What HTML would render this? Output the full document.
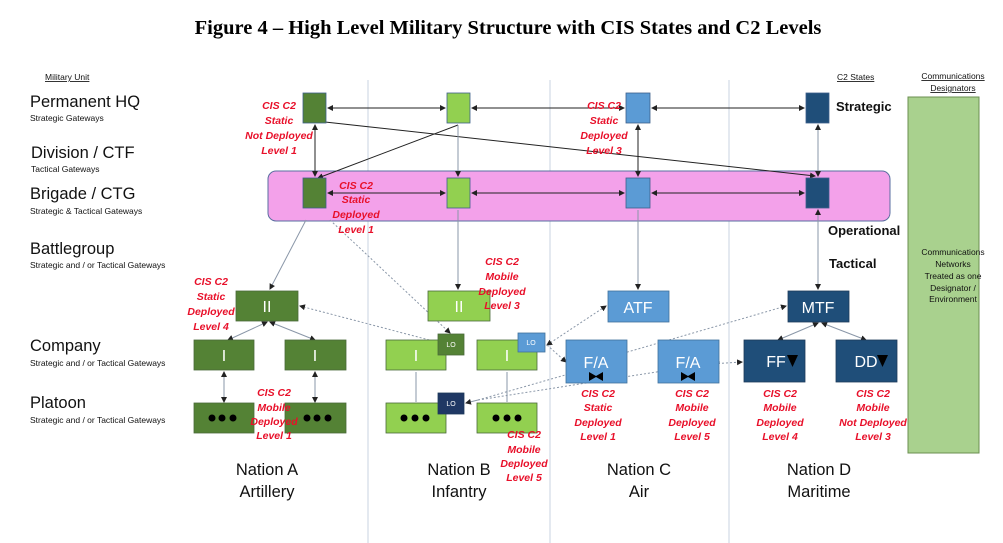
<!DOCTYPE html>
<html><head><meta charset="utf-8"><style>
body{margin:0;background:#fff;width:1003px;height:543px;overflow:hidden}
svg{display:block}
.r{font-family:"Liberation Sans",sans-serif;font-style:italic;font-weight:bold;font-size:10.5px;fill:#e8102a;text-anchor:middle}
.lab{font-family:"Liberation Sans",sans-serif;fill:#111}
.w{font-family:"Liberation Sans",sans-serif;fill:#fff;text-anchor:middle}
.n{font-family:"Liberation Sans",sans-serif;font-size:16.5px;fill:#111;text-anchor:middle}
</style></head><body>
<svg width="1003" height="543" viewBox="0 0 1003 543" xmlns="http://www.w3.org/2000/svg">
<defs>
<marker id="a" markerWidth="6" markerHeight="6" refX="5" refY="3" orient="auto"><path d="M0,0 L6,3 L0,6z" fill="#222"/></marker>
<marker id="b" markerWidth="6" markerHeight="6" refX="1" refY="3" orient="auto"><path d="M6,0 L0,3 L6,6z" fill="#222"/></marker>
</defs>
<text x="508" y="34" text-anchor="middle" font-family="Liberation Serif,serif" font-weight="bold" font-size="20.5">Figure 4 – High Level Military Structure with CIS States and C2 Levels</text>
<g stroke="#c9d3e0" stroke-width="1">
<line x1="368" y1="80" x2="368" y2="543"/><line x1="550" y1="80" x2="550" y2="543"/><line x1="729" y1="80" x2="729" y2="543"/>
</g>
<text x="45" y="80" class="lab" font-size="8.5" text-decoration="underline">Military Unit</text>
<text x="837" y="80" class="lab" font-size="8.5" text-decoration="underline">C2 States</text>
<text x="953" y="79" class="lab" font-size="8.5" text-anchor="middle" text-decoration="underline">Communications</text>
<text x="953" y="91" class="lab" font-size="8.5" text-anchor="middle" text-decoration="underline">Designators</text>
<g class="lab">
<text x="30" y="107" font-size="16.5">Permanent HQ</text><text x="30" y="121" font-size="8.5">Strategic Gateways</text>
<text x="31" y="158" font-size="16.5">Division / CTF</text><text x="31" y="172" font-size="8.5">Tactical Gateways</text>
<text x="30" y="199" font-size="16.5">Brigade / CTG</text><text x="30" y="214" font-size="8.5">Strategic &amp; Tactical Gateways</text>
<text x="30" y="254" font-size="16.5">Battlegroup</text><text x="30" y="268" font-size="8.5">Strategic and / or Tactical Gateways</text>
<text x="30" y="351" font-size="16.5">Company</text><text x="30" y="366" font-size="8.5">Strategic and / or Tactical Gateways</text>
<text x="30" y="408" font-size="16.5">Platoon</text><text x="30" y="423" font-size="8.5">Strategic and / or Tactical Gateways</text>
</g>
<rect x="908" y="97" width="71" height="356" fill="#a9d18e" stroke="#6b8f50"/>
<g class="lab" font-size="8.5" text-anchor="middle" fill="#333">
<text x="953" y="255">Communications</text><text x="953" y="267">Networks</text><text x="953" y="279">Treated as one</text><text x="953" y="291">Designator /</text><text x="953" y="302">Environment</text>
</g>
<text x="836" y="111" class="lab" font-size="13" font-weight="bold">Strategic</text>
<text x="828" y="235" class="lab" font-size="13" font-weight="bold">Operational</text>
<text x="829" y="268" class="lab" font-size="13" font-weight="bold">Tactical</text>
<rect x="268" y="171" width="622" height="50" rx="8" fill="#f3a1ea" stroke="#5a6fa0"/>
<g stroke="#222" stroke-width="1" fill="none">
<line x1="328" y1="108" x2="445" y2="108" marker-start="url(#b)" marker-end="url(#a)"/>
<line x1="472" y1="108" x2="624" y2="108" marker-start="url(#b)" marker-end="url(#a)"/>
<line x1="652" y1="108" x2="804" y2="108" marker-start="url(#b)" marker-end="url(#a)"/>
<line x1="328" y1="193" x2="445" y2="193" marker-start="url(#b)" marker-end="url(#a)"/>
<line x1="472" y1="193" x2="624" y2="193" marker-start="url(#b)" marker-end="url(#a)"/>
<line x1="652" y1="193" x2="804" y2="193" marker-start="url(#b)" marker-end="url(#a)"/>
<line x1="315" y1="125" x2="315" y2="176" marker-start="url(#b)" marker-end="url(#a)"/>
<line x1="638" y1="125" x2="638" y2="176" marker-start="url(#b)" marker-end="url(#a)"/>
<line x1="325" y1="122" x2="815" y2="176" marker-end="url(#a)"/>
<line x1="458" y1="125" x2="318" y2="178" marker-end="url(#a)"/>
</g>
<g stroke="#8a97a8" stroke-width="1" fill="none">
<line x1="458" y1="125" x2="458" y2="176" marker-end="url(#a)"/>
<line x1="818" y1="125" x2="818" y2="176" marker-start="url(#b)" marker-end="url(#a)"/>
<line x1="818" y1="210" x2="818" y2="289" marker-start="url(#b)" marker-end="url(#a)"/>
<line x1="638" y1="210" x2="638" y2="289" marker-end="url(#a)"/>
<line x1="458" y1="210" x2="458" y2="289" marker-end="url(#a)"/>
<line x1="306" y1="220" x2="270" y2="289" marker-end="url(#a)"/>
<line x1="330" y1="220" x2="450" y2="333" stroke-dasharray="2,2" marker-end="url(#a)"/>
<line x1="437" y1="342" x2="300" y2="306" stroke-dasharray="2,2" marker-end="url(#a)"/>
<line x1="267" y1="322" x2="228" y2="340" marker-start="url(#b)" marker-end="url(#a)"/>
<line x1="270" y1="322" x2="315" y2="340" marker-start="url(#b)" marker-end="url(#a)"/>
<line x1="224" y1="372" x2="224" y2="402" marker-start="url(#b)" marker-end="url(#a)"/>
<line x1="315" y1="372" x2="315" y2="402" marker-start="url(#b)" marker-end="url(#a)"/>
<line x1="416" y1="372" x2="416" y2="402"/>
<line x1="507" y1="372" x2="507" y2="402"/>
<line x1="547" y1="345" x2="606" y2="306" stroke-dasharray="2,2" marker-start="url(#b)" marker-end="url(#a)"/>
<line x1="547" y1="345" x2="566" y2="362" stroke-dasharray="2,2" marker-end="url(#a)"/>
<line x1="600" y1="360" x2="786" y2="306" stroke-dasharray="2,2" marker-end="url(#a)"/>
<line x1="710" y1="364" x2="742" y2="362" stroke-dasharray="2,2" marker-end="url(#a)"/>
<line x1="818" y1="323" x2="778" y2="340" marker-start="url(#b)" marker-end="url(#a)"/>
<line x1="822" y1="323" x2="866" y2="340" marker-start="url(#b)" marker-end="url(#a)"/>
<line x1="478" y1="400" x2="720" y2="362" stroke-dasharray="2,2"/>
<line x1="478" y1="400" x2="466" y2="403" marker-end="url(#a)"/>
<line x1="478" y1="400" x2="600" y2="365" stroke-dasharray="2,2"/>
</g>
<g stroke="#3d5f8a" stroke-width="0.8">
<rect x="303" y="93" width="23" height="30" fill="#548235"/>
<rect x="447" y="93" width="23" height="30" fill="#92d050"/>
<rect x="626" y="93" width="24" height="30" fill="#5b9bd5"/>
<rect x="806" y="93" width="23" height="30" fill="#1f4e79"/>
<rect x="303" y="178" width="23" height="30" fill="#548235"/>
<rect x="447" y="178" width="23" height="30" fill="#92d050"/>
<rect x="626" y="178" width="24" height="30" fill="#5b9bd5"/>
<rect x="806" y="178" width="23" height="30" fill="#1f4e79"/>
</g>
<g stroke="#4a6a3a" stroke-width="0.8">
<rect x="236" y="291" width="62" height="30" fill="#548235"/>
<rect x="428" y="291" width="62" height="30" fill="#92d050"/>
<rect x="608" y="291" width="61" height="31" fill="#5b9bd5" stroke="#41719c"/>
<rect x="788" y="291" width="61" height="31" fill="#1f4e79" stroke="#1f3a5a"/>
<rect x="194" y="340" width="60" height="30" fill="#548235"/>
<rect x="285" y="340" width="61" height="30" fill="#548235"/>
<rect x="386" y="340" width="60" height="30" fill="#92d050"/>
<rect x="477" y="340" width="60" height="30" fill="#92d050"/>
<rect x="566" y="340" width="61" height="43" fill="#5b9bd5" stroke="#41719c"/>
<rect x="658" y="340" width="61" height="43" fill="#5b9bd5" stroke="#41719c"/>
<rect x="744" y="340" width="61" height="42" fill="#1f4e79" stroke="#1f3a5a"/>
<rect x="836" y="340" width="61" height="42" fill="#1f4e79" stroke="#1f3a5a"/>
<rect x="194" y="403" width="60" height="30" fill="#548235"/>
<rect x="285" y="403" width="61" height="30" fill="#548235"/>
<rect x="386" y="403" width="60" height="30" fill="#92d050"/>
<rect x="477" y="403" width="60" height="30" fill="#92d050"/>
<rect x="438" y="334" width="26" height="21" fill="#548235"/>
<rect x="518" y="333" width="27" height="19" fill="#5b9bd5" stroke="#41719c"/>
<rect x="438" y="393" width="26" height="21" fill="#1f3864" stroke="#1f3a5a"/>
</g>
<g class="w" font-size="16">
<text x="267" y="312">II</text><text x="459" y="312">II</text>
<text x="638" y="313">ATF</text><text x="818" y="313">MTF</text>
<text x="224" y="361">I</text><text x="315" y="361">I</text><text x="416" y="361">I</text><text x="507" y="361">I</text>
<text x="596" y="368">F/A</text><text x="688" y="368">F/A</text>
<text x="776" y="367">FF</text><text x="866" y="367">DD</text>
</g>
<g class="w" font-size="7"><text x="451" y="347">LO</text><text x="531" y="345">LO</text><text x="451" y="406">LO</text></g>
<g fill="#000">
<path d="M787,355 h11 l-5.5,12z"/><path d="M877,355 h11 l-5.5,12z"/>
<path d="M589,372 l7,4 l7,-4 v9 l-7,-4 l-7,4z"/><path d="M681,372 l7,4 l7,-4 v9 l-7,-4 l-7,4z"/>
</g>
<g fill="#000">
<circle cx="212" cy="418" r="3.5"/><circle cx="222" cy="418" r="3.5"/><circle cx="233" cy="418" r="3.5"/>
<circle cx="307" cy="418" r="3.5"/><circle cx="317" cy="418" r="3.5"/><circle cx="328" cy="418" r="3.5"/>
<circle cx="404" cy="418" r="3.5"/><circle cx="415" cy="418" r="3.5"/><circle cx="426" cy="418" r="3.5"/>
<circle cx="496" cy="418" r="3.5"/><circle cx="507" cy="418" r="3.5"/><circle cx="518" cy="418" r="3.5"/>
</g>
<g class="r">
<text x="279" y="109">CIS C2</text><text x="279" y="124">Static</text><text x="279" y="139">Not Deployed</text><text x="279" y="154">Level 1</text>
<text x="356" y="189">CIS C2</text><text x="356" y="203">Static</text><text x="356" y="218">Deployed</text><text x="356" y="233">Level 1</text>
<text x="604" y="109">CIS C2</text><text x="604" y="124">Static</text><text x="604" y="139">Deployed</text><text x="604" y="154">Level 3</text>
<text x="211" y="285">CIS C2</text><text x="211" y="300">Static</text><text x="211" y="315">Deployed</text><text x="211" y="330">Level 4</text>
<text x="502" y="265">CIS C2</text><text x="502" y="280">Mobile</text><text x="502" y="295">Deployed</text><text x="502" y="309">Level 3</text>
<text x="274" y="396">CIS C2</text><text x="274" y="411">Mobile</text><text x="274" y="425">Deployed</text><text x="274" y="439">Level 1</text>
<text x="524" y="438">CIS C2</text><text x="524" y="453">Mobile</text><text x="524" y="467">Deployed</text><text x="524" y="481">Level 5</text>
<text x="598" y="397">CIS C2</text><text x="598" y="411">Static</text><text x="598" y="426">Deployed</text><text x="598" y="440">Level 1</text>
<text x="692" y="397">CIS C2</text><text x="692" y="411">Mobile</text><text x="692" y="426">Deployed</text><text x="692" y="440">Level 5</text>
<text x="780" y="397">CIS C2</text><text x="780" y="411">Mobile</text><text x="780" y="426">Deployed</text><text x="780" y="440">Level 4</text>
<text x="873" y="397">CIS C2</text><text x="873" y="411">Mobile</text><text x="873" y="426">Not Deployed</text><text x="873" y="440">Level 3</text>
</g>
<g class="n">
<text x="267" y="475">Nation A</text><text x="267" y="497">Artillery</text>
<text x="459" y="475">Nation B</text><text x="459" y="497">Infantry</text>
<text x="639" y="475">Nation C</text><text x="639" y="497">Air</text>
<text x="819" y="475">Nation D</text><text x="819" y="497">Maritime</text>
</g>
</svg>
</body></html>
